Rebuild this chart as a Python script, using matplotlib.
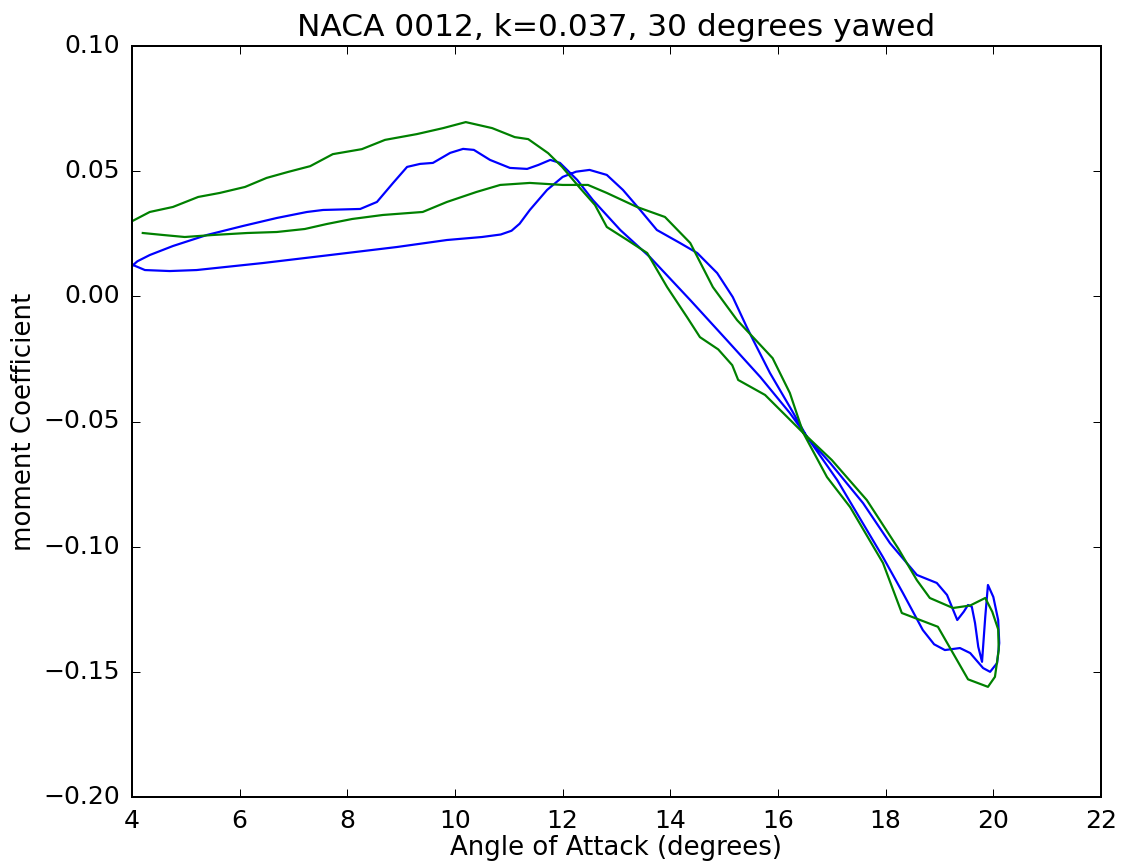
import matplotlib

matplotlib.use("Agg")
import matplotlib.pyplot as plt

# blue loop (smooth curve)
blue_alpha = [
    4.02, 4.24, 4.7, 5.2, 6.43, 7.68, 8.92, 9.85, 10.5, 10.85, 11.05, 11.2,
    11.39, 11.71, 12.0, 12.25, 12.5, 12.82, 13.12, 13.44, 13.75, 14.18, 14.5,
    14.87, 15.16, 15.42, 15.54, 15.85, 16.22, 16.54, 17.1, 17.95, 18.32,
    18.69, 18.9, 19.1, 19.38, 19.57, 19.81, 19.94, 20.07, 20.11, 20.09, 20.0,
    19.9, 19.85, 19.79, 19.72, 19.66, 19.6, 19.53, 19.45, 19.33, 19.14,
    18.95, 18.58, 18.08, 17.58, 16.97, 16.54, 16.22, 15.67, 15.05, 14.37,
    13.62, 13.07, 12.56, 12.27, 11.95, 11.77, 11.55, 11.34, 11.02, 10.65,
    10.35, 10.15, 9.91, 9.59, 9.35, 9.11, 8.85, 8.55, 8.24, 7.55, 7.25,
    6.69, 6.06, 5.39, 4.76, 4.33, 4.1, 4.02,
]
blue_cm = [
    0.0125, 0.0105, 0.0101, 0.0105, 0.0133, 0.0165, 0.0197, 0.0225, 0.0237,
    0.0247, 0.0262, 0.029, 0.0345, 0.0425, 0.0477, 0.0498, 0.0505, 0.0485,
    0.0425, 0.0345, 0.0265, 0.0213, 0.0173, 0.0093, -0.0003, -0.0123,
    -0.0175, -0.0306, -0.0442, -0.0562, -0.0734, -0.1042, -0.1185, -0.1333,
    -0.139, -0.1413, -0.1405, -0.1425, -0.1485, -0.15, -0.1465, -0.1385,
    -0.1293, -0.1201, -0.1153, -0.128, -0.146, -0.14, -0.1305, -0.124,
    -0.1233, -0.126, -0.1293, -0.1193, -0.1145, -0.1113, -0.0986, -0.0826,
    -0.0666, -0.0562, -0.0466, -0.0322, -0.0175, -0.0015, 0.0157, 0.0265,
    0.0385, 0.0465, 0.0533, 0.0545, 0.0525, 0.0509, 0.0513, 0.0545, 0.0585,
    0.0589, 0.0573, 0.0533, 0.0529, 0.0517, 0.0453, 0.0377, 0.0349, 0.0345,
    0.0337, 0.0313, 0.0281, 0.0245, 0.0201, 0.0165, 0.014, 0.0125,
]

# green loop (piecewise linear)
green_alpha = [
    4.0, 4.33, 4.76, 5.23, 5.63, 6.1, 6.5, 6.9, 7.31, 7.73, 8.27, 8.7, 9.29,
    9.78, 10.2, 10.69, 11.11, 11.36, 11.73, 11.99, 12.32, 12.6, 12.82, 13.2,
    13.57, 13.94, 14.31, 14.55, 14.89, 15.15, 15.26, 15.76, 16.47, 17.0,
    17.65, 18.23, 18.58, 18.82, 19.25, 19.57, 19.85, 19.98, 20.09, 20.1,
    20.03, 19.9, 19.53, 18.97, 18.3, 17.95, 17.34, 16.91, 16.47, 16.22,
    15.9, 15.24, 14.79, 14.37, 13.9, 13.38, 12.82, 12.47, 12.0, 11.39,
    10.84, 10.4, 9.85, 9.4, 8.66, 8.09, 7.62, 7.21, 6.69, 6.14, 5.5, 4.98,
    4.58, 4.2,
]
green_cm = [
    0.030, 0.0337, 0.0357, 0.0397, 0.0413, 0.0437, 0.0473, 0.0497, 0.052,
    0.0568, 0.0588, 0.0625, 0.0648, 0.0672, 0.0696, 0.0672, 0.0636, 0.0628,
    0.0572, 0.0517, 0.0433, 0.0365, 0.0277, 0.0225, 0.0173, 0.0037, -0.0083,
    -0.0163, -0.0212, -0.0275, -0.0334, -0.0394, -0.0546, -0.0654, -0.0814,
    -0.1006, -0.1134, -0.1205, -0.1245, -0.1235, -0.1205, -0.126, -0.133,
    -0.1413, -0.152, -0.156, -0.153, -0.132, -0.1265, -0.1065, -0.0842,
    -0.0722, -0.0546, -0.0386, -0.0247, -0.0095, 0.0037, 0.0213, 0.0317,
    0.0357, 0.0413, 0.0445, 0.0445, 0.0453, 0.0445, 0.0417, 0.0377, 0.0337,
    0.0325, 0.0309, 0.0289, 0.0269, 0.0257, 0.0253, 0.0245, 0.0237, 0.0245,
    0.0253,
]


def main() -> None:
    plt.style.use("classic")
    fig = plt.figure(figsize=(1121 / 144, 867 / 144), dpi=144, facecolor="white")
    fig.subplots_adjust(left=132 / 1121, right=1101 / 1121, top=1 - 46 / 867, bottom=1 - 797 / 867)
    ax = fig.add_subplot(111)

    ax.plot(blue_alpha, blue_cm, color="b", linewidth=1.1)
    ax.plot(green_alpha, green_cm, color="g", linewidth=1.1)

    ax.set_xlim(4, 22)
    ax.set_ylim(-0.2, 0.1)
    ax.set_xticks(range(4, 23, 2))
    ax.set_yticks([-0.20, -0.15, -0.10, -0.05, 0.00, 0.05, 0.10])
    ax.yaxis.set_major_formatter(
        matplotlib.ticker.FuncFormatter(lambda v, _: f"{v:.2f}".replace("-", "\u2212"))
    )
    ax.tick_params(labelsize=12.5, pad=6)
    ax.set_title("NACA 0012, k=0.037, 30 degrees yawed", fontsize=15.6)
    ax.set_xlabel("Angle of Attack (degrees)", fontsize=13, labelpad=1)
    ax.set_ylabel("moment Coefficient", fontsize=13, labelpad=3)

    fig.savefig("out.png", dpi=144, facecolor="white")
    plt.close(fig)


if __name__ == "__main__":
    main()
